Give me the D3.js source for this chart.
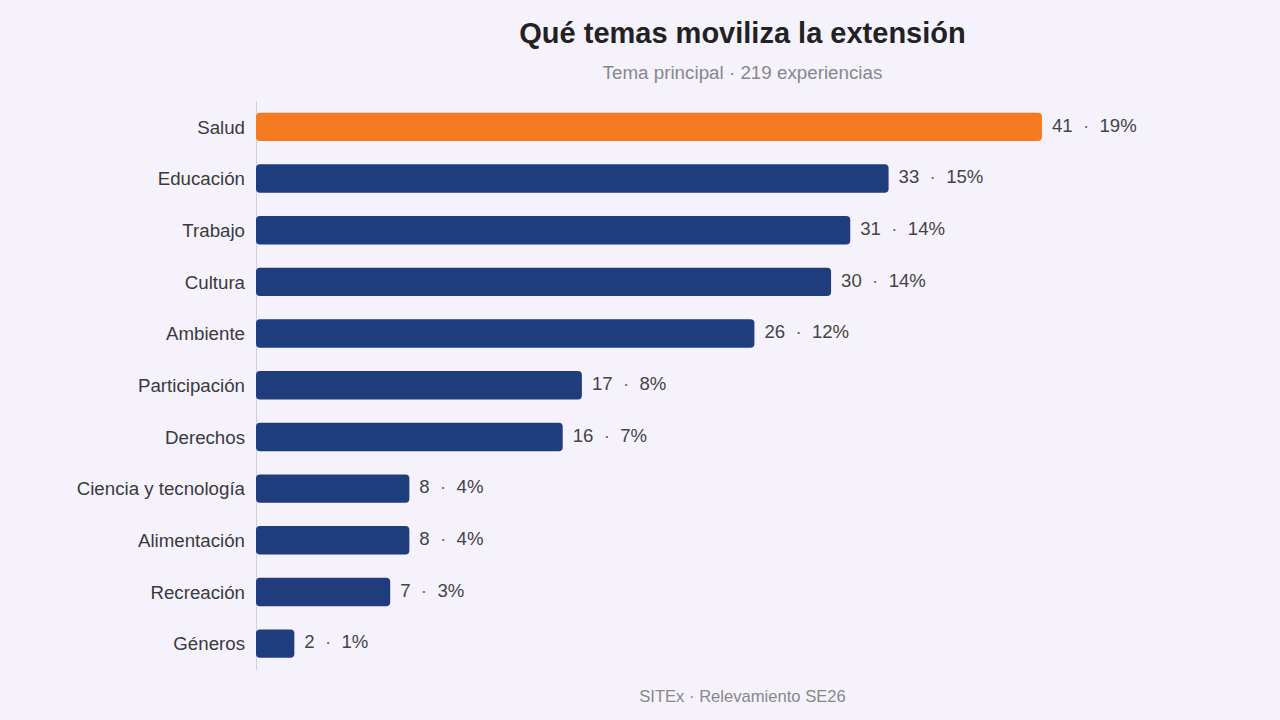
<!DOCTYPE html>
<html>
<head>
<meta charset="utf-8">
<script src="https://cdn.jsdelivr.net/npm/d3@7"></script>
<style>
  html, body { margin: 0; padding: 0; background: #f5f2fc; }
  svg { display: block; font-family: "Liberation Sans", Arial, sans-serif; }
</style>
</head>
<body>
<div id="chart-area"></div>
<script>
var width = 1280;
var height = 720;
var margin = { top: 101, right: 51, bottom: 50.5, left: 256 };

// data
var temas = ["Salud", "Educación", "Trabajo", "Cultura", "Ambiente", "Participación",
  "Derechos", "Ciencia y tecnología", "Alimentación", "Recreación", "Géneros"];
var cantidades = [41, 33, 31, 30, 26, 17, 16, 8, 8, 7, 2];
var porcentajes = ["19%", "15%", "14%", "14%", "12%", "8%", "7%", "4%", "4%", "3%", "1%"];
var destacado = "Salud";

var data = temas.map(function(t, i) {
  return { tema: t, n: cantidades[i], pct: porcentajes[i] };
});

var svg = d3.select("#chart-area")
  .append("svg")
  .attr("width", width)
  .attr("height", height);

svg.append("rect")
  .attr("width", width)
  .attr("height", height)
  .attr("fill", "#f5f2fc");

var x = d3.scaleLinear()
  .domain([0, d3.max(cantidades) * 1.238])
  .range([margin.left, width - margin.right]);

var y = d3.scaleBand()
  .domain(temas)
  .range([margin.top, height - margin.bottom])
  .paddingInner(0.45)
  .paddingOuter(0.225);

var cx = (margin.left + width - margin.right) / 2;

// title
svg.append("text")
  .attr("x", cx)
  .attr("y", 43)
  .attr("text-anchor", "middle")
  .attr("font-size", 29)
  .attr("font-weight", "bold")
  .attr("fill", "#222")
  .text("Qué temas moviliza la extensión");

svg.append("text")
  .attr("x", cx)
  .attr("y", 79)
  .attr("text-anchor", "middle")
  .attr("font-size", 18.8)
  .attr("fill", "#888")
  .text("Tema principal · 219 experiencias");

// y axis (labels + line)
var yAxis = d3.axisLeft(y).tickSize(0).tickPadding(11);
var gy = svg.append("g")
  .attr("transform", "translate(" + margin.left + ",0)")
  .call(yAxis);
gy.select(".domain").attr("stroke", "#cfcfd6").attr("stroke-width", 1);
gy.selectAll(".tick text")
  .attr("font-size", 18.7)
  .attr("fill", "#3a3a3a")
  .attr("font-family", "Liberation Sans, Arial, sans-serif")
  .attr("dy", "0.36em");

// bars
svg.selectAll("rect.bar")
  .data(data)
  .enter()
  .append("rect")
  .attr("class", "bar")
  .attr("x", x(0))
  .attr("y", function(d) { return y(d.tema); })
  .attr("width", function(d) { return x(d.n) - x(0); })
  .attr("height", y.bandwidth())
  .attr("rx", 4)
  .attr("fill", function(d) { return d.tema == destacado ? "#f47b22" : "#1f3d7c"; });

// value labels
var lab = svg.selectAll("text.val")
  .data(data)
  .enter()
  .append("text")
  .attr("class", "val")
  .attr("x", function(d) { return x(d.n) + 10; })
  .attr("y", function(d) { return y(d.tema) + y.bandwidth() / 2; })
  .attr("dy", "0.26em")
  .attr("font-size", 18.6)
  .attr("fill", "#444");
lab.append("tspan").text(function(d) { return d.n; });
lab.append("tspan").attr("fill", "#666").text("  ·  ");
lab.append("tspan").text(function(d) { return d.pct; });
lab.attr("style", "white-space: pre");

// footer
svg.append("text")
  .attr("x", cx)
  .attr("y", 702)
  .attr("text-anchor", "middle")
  .attr("font-size", 16.6)
  .attr("fill", "#888")
  .text("SITEx · Relevamiento SE26");
</script>
</body>
</html>
